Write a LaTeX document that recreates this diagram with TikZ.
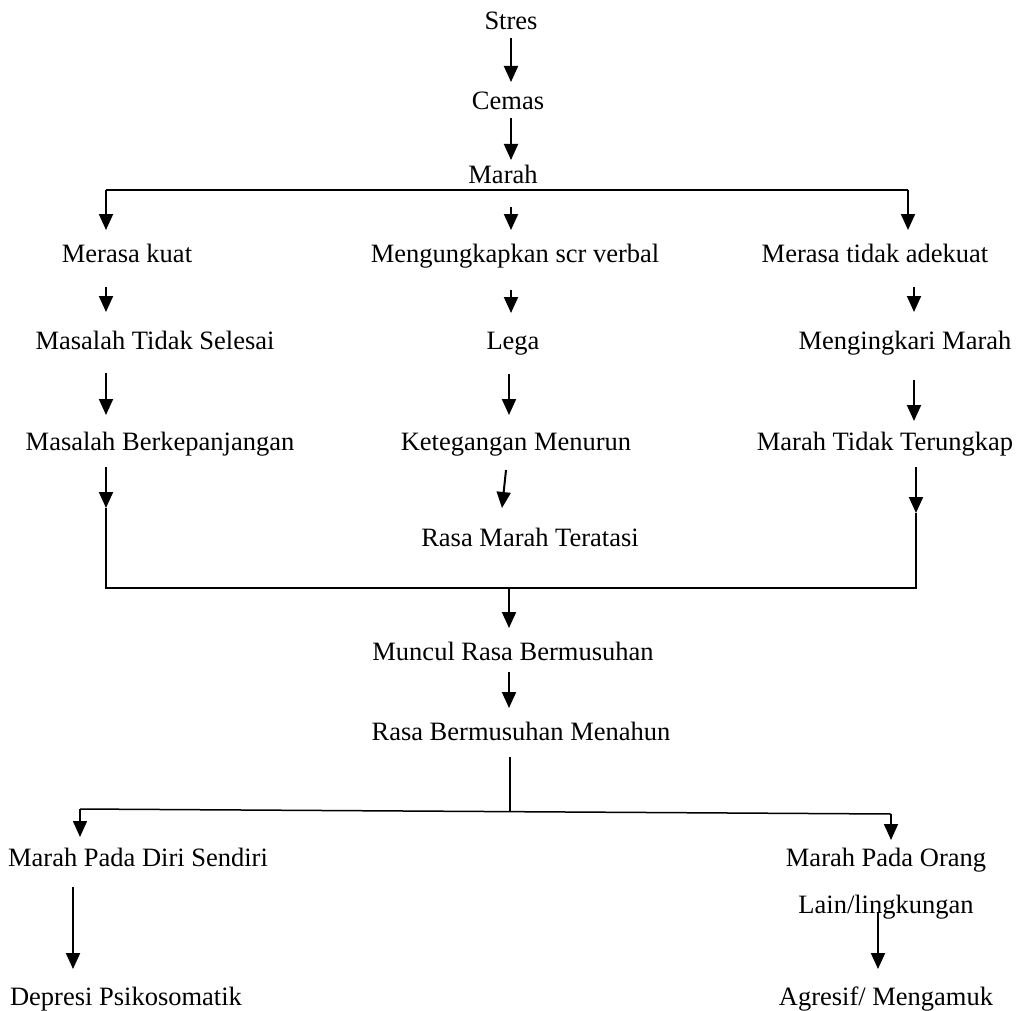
\documentclass[tikz,border=0pt]{standalone}
\usepackage{fontspec}
\setmainfont{Liberation Serif}
\usetikzlibrary{arrows.meta}
\begin{document}
\begin{tikzpicture}[x=1pt,y=-1pt,
  lbl/.style={anchor=base,inner sep=0pt,font=\fontsize{26.5}{30}\selectfont},
  conn/.style={line width=2pt},
  thin/.style={line width=1.5pt},
  arr/.style={line width=2pt,-{Triangle[width=14pt,length=16pt]}},
  arrthin/.style={line width=1.6pt,-{Triangle[width=14pt,length=16pt]}}]
\useasboundingbox (0,0) rectangle (1022,1011);

% labels
\node[lbl] (stres) at (511,30) {Stres};
\node[lbl] (cemas) at (508,110) {Cemas};
\node[lbl] (marah) at (503,183) {Marah};
\node[lbl] (kuat) at (127,262) {Merasa kuat};
\node[lbl] (verbal) at (515,262) {Mengungkapkan scr verbal};
\node[lbl] (tidakadekuat) at (875,262) {Merasa tidak adekuat};
\node[lbl] (tidakselesai) at (155,349) {Masalah Tidak Selesai};
\node[lbl] (lega) at (513,349) {Lega};
\node[lbl] (mengingkari) at (905,349) {Mengingkari Marah};
\node[lbl] (berkepanjangan) at (160,450) {Masalah Berkepanjangan};
\node[lbl] (ketegangan) at (516,450) {Ketegangan Menurun};
\node[lbl] (terungkap) at (885,450) {Marah Tidak Terungkap};
\node[lbl] (teratasi) at (530,546) {Rasa Marah Teratasi};
\node[lbl] (muncul) at (513,660) {Muncul Rasa Bermusuhan};
\node[lbl] (menahun) at (521,740) {Rasa Bermusuhan Menahun};
\node[lbl] (dirisendiri) at (138,866) {Marah Pada Diri Sendiri};
\node[lbl] (oranglain) at (886,866) {Marah Pada Orang};
\node[lbl] (lingkungan) at (886,913) {Lain/lingkungan};
\node[lbl] (depresi) at (126,1005) {Depresi Psikosomatik};
\node[lbl] (agresif) at (886,1005) {Agresif/ Mengamuk};

% connector points
\coordinate (s1) at (511,38);  \coordinate (e1) at (511,82);
\coordinate (s2) at (511,118); \coordinate (e2) at (511,160);
\coordinate (bl) at (106,190); \coordinate (br) at (908,190);
\coordinate (blt) at (106,230); \coordinate (brt) at (908,230);
\coordinate (ms) at (511,207); \coordinate (mt) at (511,230);
\coordinate (r2ls) at (106,287); \coordinate (r2lt) at (106,312);
\coordinate (r2ms) at (511,290); \coordinate (r2mt) at (511,313);
\coordinate (r2rs) at (914,287); \coordinate (r2rt) at (914,312);
\coordinate (r3ls) at (106,373); \coordinate (r3lt) at (106,415);
\coordinate (r3ms) at (509,374); \coordinate (r3mt) at (509,415);
\coordinate (r3rs) at (914,380); \coordinate (r3rt) at (914,421);
\coordinate (r4ls) at (106,467); \coordinate (r4lt) at (106,508);
\coordinate (r4ms) at (506,470); \coordinate (r4mt) at (502,508);
\coordinate (r4rs) at (916,467); \coordinate (r4rt) at (916,513);
\coordinate (jl) at (106,588); \coordinate (jr) at (916,588);
\coordinate (jm) at (509,588); \coordinate (jmt) at (509,628);
\coordinate (m2s) at (509,672); \coordinate (m2t) at (509,708);
\coordinate (stem) at (510,757); \coordinate (stemb) at (510,812);
\coordinate (fl) at (80,809); \coordinate (fr) at (891,814);
\coordinate (flt) at (80,837); \coordinate (frt) at (891,840);
\coordinate (dls) at (73,887); \coordinate (dlt) at (73,969);
\coordinate (drs) at (878,912); \coordinate (drt) at (878,969);

% top chain
\draw[arr] (s1) -- (e1);
\draw[arr] (s2) -- (e2);

% three-way split under Marah
\draw[conn] (blt |- bl) -- (br);
\draw[arr] (bl) -- (blt);
\draw[arr] (br) -- (brt);
\draw[arr] (ms) -- (mt);

% columns
\draw[arr] (r2ls) -- (r2lt);
\draw[arr] (r2ms) -- (r2mt);
\draw[arr] (r2rs) -- (r2rt);
\draw[arr] (r3ls) -- (r3lt);
\draw[arr] (r3ms) -- (r3mt);
\draw[arr] (r3rs) -- (r3rt);
\draw[arr] (r4ls) -- (r4lt);
\draw[arr] (r4ms) -- (r4mt);
\draw[arr] (r4rs) -- (r4rt);

% merge of the outer columns
\draw[conn] (r4lt) -- (jl) -- (jr) -- (r4rt);
\draw[arr] (jm) -- (jmt);
\draw[arr] (m2s) -- (m2t);

% final split
\draw[thin] (stem) -- (stemb);
\draw[thin] (fl) -- (fr);
\draw[arrthin] (fl) -- (flt);
\draw[arrthin] (fr) -- (frt);
\draw[arr] (dls) -- (dlt);
\draw[arr] (drs) -- (drt);
\end{tikzpicture}
\end{document}
